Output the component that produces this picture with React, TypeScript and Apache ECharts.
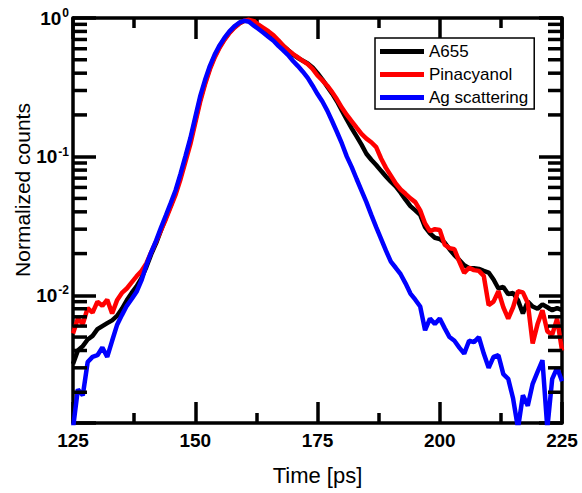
import React, { useEffect, useRef } from "react";
import * as echarts from "echarts";

const timeStart = 125;
const timeEnd = 225;
const timeStep = 1;

const a655 = [
  0.0032, 0.0040, 0.0043, 0.0048, 0.0051, 0.0057, 0.0060, 0.0063, 0.0066, 0.0071,
  0.0080, 0.0092, 0.0104, 0.0116, 0.0133, 0.0160, 0.0198, 0.0238, 0.0295, 0.0365,
  0.0445, 0.0555, 0.0725, 0.0970, 0.1300, 0.1830, 0.2580, 0.3420, 0.4380, 0.5330,
  0.6230, 0.7080, 0.7880, 0.8580, 0.9150, 0.9550, 0.9650, 0.9400, 0.8800, 0.8300,
  0.7800, 0.7300, 0.6800, 0.6300, 0.5850, 0.5450, 0.5150, 0.4920, 0.4700, 0.4400,
  0.4000, 0.3600, 0.3200, 0.2850, 0.2500, 0.2150, 0.1850, 0.1600, 0.1400, 0.1220,
  0.1050, 0.0950, 0.0870, 0.0790, 0.0720, 0.0660, 0.0610, 0.0550, 0.0490, 0.0440,
  0.0410, 0.0380, 0.0310, 0.0280, 0.0260, 0.0255, 0.0240, 0.0215, 0.0195, 0.0180,
  0.0165, 0.0157, 0.0157, 0.0155, 0.0150, 0.0146, 0.0130, 0.0112, 0.0115, 0.0102,
  0.0104, 0.0092, 0.0074, 0.0090, 0.0083, 0.0080, 0.0086, 0.0082, 0.0078, 0.0081,
  0.0078,
];

const pinacyanol = [
  0.0053, 0.0068, 0.0062, 0.0081, 0.0075, 0.0090, 0.0084, 0.0093, 0.0074, 0.0092,
  0.0104, 0.0112, 0.0124, 0.0137, 0.0150, 0.0170, 0.0205, 0.0245, 0.0295, 0.0355,
  0.0435, 0.0535, 0.0690, 0.0920, 0.1230, 0.1750, 0.2480, 0.3320, 0.4270, 0.5220,
  0.6130, 0.6980, 0.7800, 0.8500, 0.9100, 0.9550, 0.9700, 0.9500, 0.8900, 0.8450,
  0.8000, 0.7500, 0.6900, 0.6300, 0.5850, 0.5500, 0.5200, 0.4900, 0.4650, 0.4300,
  0.3850, 0.3550, 0.3250, 0.2920, 0.2580, 0.2250, 0.2000, 0.1800, 0.1620, 0.1460,
  0.1350, 0.1270, 0.1170, 0.0970, 0.0830, 0.0730, 0.0640, 0.0580, 0.0540, 0.0500,
  0.0470, 0.0410, 0.0330, 0.0290, 0.0300, 0.0296, 0.0232, 0.0219, 0.0215, 0.0175,
  0.0145, 0.0158, 0.0152, 0.0150, 0.0138, 0.0085, 0.0090, 0.0107, 0.0082, 0.0068,
  0.0082, 0.0107, 0.0105, 0.0088, 0.0045, 0.0062, 0.0078, 0.0055, 0.0052, 0.0068,
  0.0040,
];

const agScattering = [
  0.0011, 0.0021, 0.0019, 0.0033, 0.0036, 0.0037, 0.0042, 0.0036, 0.0047, 0.0061,
  0.0072, 0.0084, 0.0094, 0.0106, 0.0128, 0.0165, 0.0205, 0.0248, 0.0308, 0.0378,
  0.0465, 0.0575, 0.0755, 0.1010, 0.1360, 0.1920, 0.2720, 0.3570, 0.4520, 0.5470,
  0.6370, 0.7220, 0.8020, 0.8700, 0.9250, 0.9550, 0.9400, 0.8800, 0.8300, 0.7800,
  0.7300, 0.6850, 0.6300, 0.5850, 0.5400, 0.4900, 0.4500, 0.4100, 0.3700, 0.3250,
  0.2830, 0.2500, 0.2150, 0.1800, 0.1500, 0.1240, 0.1000, 0.0840, 0.0690, 0.0570,
  0.0470, 0.0380, 0.0310, 0.0255, 0.0210, 0.0175, 0.0158, 0.0142, 0.0122, 0.0103,
  0.0093, 0.0083, 0.0056, 0.0068, 0.0062, 0.0068, 0.0058, 0.0050, 0.0047, 0.0042,
  0.0038, 0.0047, 0.0046, 0.0050, 0.0038, 0.0030, 0.0036, 0.0037, 0.0027, 0.0025,
  0.0018, 0.0011, 0.0019, 0.0016, 0.0023, 0.0028, 0.0034, 0.0011, 0.0025, 0.0030,
  0.0024,
];

const seriesNames = ["A655", "Pinacyanol", "Ag scattering"];
const seriesColors = ["#000000", "#ff0000", "#0000ff"];

const yMin = 0.0012;
const yMax = 1;
const minorMantissas = [2, 3, 4, 5, 6, 7, 8, 9];
const minorDecades = [0.001, 0.01, 0.1];

export default function App() {
  const ref = useRef<HTMLDivElement>(null);

  useEffect(() => {
    if (!ref.current) return;
    const chart = echarts.init(ref.current, undefined, { renderer: "svg" });

    const times: number[] = [];
    for (let t = timeStart; t <= timeEnd + 1e-9; t += timeStep) times.push(t);
    const toPairs = (vals: number[]) => vals.map((v, i) => [times[i], v]);

    const minorTicks: number[][] = [];
    minorDecades.forEach((d) =>
      minorMantissas.forEach((m) => {
        const v = m * d;
        if (v >= yMin && v <= yMax) minorTicks.push([timeStart, v]);
      })
    );

    const font = "Arial, 'Liberation Sans', Helvetica, sans-serif";
    const lw = 3.5;
    const axisLineStyle = { color: "#000", width: lw };
    const tickStyle = { color: "#000", width: lw };

    const supLabel = (value: number) => {
      const e = Math.log10(value);
      const r = Math.round(e);
      if (Math.abs(e - r) > 1e-6) return "";
      return "{b|10}{s|" + r + "}";
    };

    const lineSeries = [a655, pinacyanol, agScattering].map((vals, i) => ({
      name: seriesNames[i],
      type: "line",
      data: toPairs(vals),
      showSymbol: false,
      symbol: "none",
      smooth: false,
      clip: true,
      color: seriesColors[i],
      lineStyle: { color: seriesColors[i], width: 4.5 },
      z: 2 + i,
    }));

    chart.setOption({
      animation: false,
      backgroundColor: "#ffffff",
      textStyle: { fontFamily: font },
      grid: { left: 73, right: 20, top: 18, bottom: 70, containLabel: false },
      legend: {
        data: seriesNames,
        orient: "vertical",
        left: 375,
        top: 38,
        icon: "rect",
        itemWidth: 44,
        itemHeight: 5,
        itemGap: 6,
        padding: [5, 6, 3, 5],
        borderColor: "#000",
        borderWidth: 1.5,
        backgroundColor: "#fff",
        textStyle: { fontSize: 17, lineHeight: 17, color: "#000", fontFamily: font },
      },
      xAxis: [
        {
          type: "value",
          position: "bottom",
          min: timeStart,
          max: timeEnd,
          interval: 25,
          name: "Time [ps]",
          nameLocation: "middle",
          nameGap: 41,
          nameTextStyle: { fontSize: 22, color: "#000", fontFamily: font },
          axisLine: { show: true, onZero: false, lineStyle: axisLineStyle },
          axisTick: { show: true, inside: true, length: 21, lineStyle: tickStyle },
          minorTick: { show: true, splitNumber: 2, length: 10, lineStyle: tickStyle },
          axisLabel: { show: true, fontSize: 19, fontWeight: "bold", color: "#000", margin: 8, fontFamily: font },
          splitLine: { show: false },
        },
        {
          type: "value",
          position: "top",
          min: timeStart,
          max: timeEnd,
          interval: 25,
          axisLine: { show: true, onZero: false, lineStyle: axisLineStyle },
          axisTick: { show: true, inside: true, length: 21, lineStyle: tickStyle },
          minorTick: { show: true, splitNumber: 2, length: 10, lineStyle: tickStyle },
          axisLabel: { show: false },
          splitLine: { show: false },
        },
      ],
      yAxis: [
        {
          type: "log",
          logBase: 10,
          position: "left",
          min: yMin,
          max: yMax,
          axisLine: { show: true, onZero: false, lineStyle: axisLineStyle },
          axisTick: { show: true, inside: true, length: 23, lineStyle: tickStyle },
          axisLabel: {
            show: true,
            margin: 4,
            formatter: supLabel,
            rich: {
              b: { fontSize: 19, fontWeight: "bold", color: "#000", fontFamily: font, lineHeight: 22 },
              s: { fontSize: 12, fontWeight: "bold", color: "#000", fontFamily: font, verticalAlign: "top", lineHeight: 12, padding: [0, 0, 10, 1] },
            },
          },
          splitLine: { show: false },
        },
        {
          type: "log",
          logBase: 10,
          position: "right",
          min: yMin,
          max: yMax,
          axisLine: { show: true, onZero: false, lineStyle: axisLineStyle },
          axisTick: { show: true, inside: true, length: 23, lineStyle: tickStyle },
          axisLabel: { show: false },
          splitLine: { show: false },
        },
      ],
      graphic: [
        {
          type: "text",
          x: 22,
          y: 190,
          rotation: Math.PI / 2,
          style: {
            text: "Normalized counts",
            fontSize: 21,
            fontFamily: font,
            fill: "#000",
            align: "center",
            verticalAlign: "middle",
          },
        },
      ],
      series: [
        ...lineSeries,
        {
          name: "minor ticks",
          type: "custom",
          xAxisIndex: 0,
          yAxisIndex: 0,
          silent: true,
          clip: false,
          z: 10,
          data: minorTicks,
          encode: { x: 0, y: 1 },
          renderItem: (params: any, api: any) => {
            const v = api.value(1);
            const pl = api.coord([timeStart, v]);
            const pr = api.coord([timeEnd, v]);
            const st = { stroke: "#000", lineWidth: lw };
            return {
              type: "group",
              children: [
                { type: "line", shape: { x1: pl[0], y1: pl[1], x2: pl[0] + 14, y2: pl[1] }, style: st },
                { type: "line", shape: { x1: pr[0], y1: pr[1], x2: pr[0] - 14, y2: pr[1] }, style: st },
              ],
            };
          },
        },
      ],
    });

    return () => chart.dispose();
  }, []);

  return (
    <div
      ref={ref}
      style={{ position: "absolute", left: 0, top: 0, width: 582, height: 493, background: "#fff" }}
    />
  );
}
